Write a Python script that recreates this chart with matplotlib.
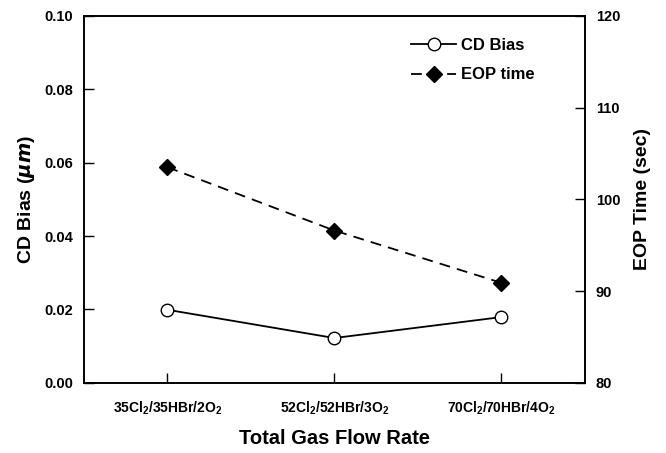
import numpy as np
import matplotlib
matplotlib.use('Agg')
import matplotlib.pyplot as plt

plt.rcParams['font.family'] = 'Liberation Sans'
plt.rcParams['font.weight'] = 'bold'
plt.rcParams['mathtext.fontset'] = 'custom'
plt.rcParams['mathtext.bf'] = 'Liberation Sans:bold'
plt.rcParams['mathtext.rm'] = 'Liberation Sans:bold'
plt.rcParams['mathtext.default'] = 'bf'

# data
labels = ['35Cl$_2$/35HBr/2O$_2$', '52Cl$_2$/52HBr/3O$_2$', '70Cl$_2$/70HBr/4O$_2$']
cd_bias = [0.0199, 0.0122, 0.0179]   # um
eop_time = [103.5, 96.6, 90.9]      # sec

x = np.arange(1, len(labels) + 1)

fig = plt.figure(figsize=(6.66, 4.53), dpi=100)
ax = fig.add_axes([0.126, 0.155, 0.752, 0.81])
ax2 = ax.twinx()

l1, = ax.plot(x, cd_bias, '-', color='black', lw=1.3, marker='o', ms=9,
              mfc='white', mec='black', mew=1.0, label='CD Bias')
l2, = ax2.plot(x, eop_time, '--', color='black', lw=1.3, marker='D', ms=8,
               mfc='black', mec='black', dashes=(6, 4), label='EOP time')

ax.set_xlim(0.5, 3.5)
ax.set_ylim(0, 0.1)
ax.set_yticks([0, 0.02, 0.04, 0.06, 0.08, 0.10])
ax.set_yticklabels(['0.00', '0.02', '0.04', '0.06', '0.08', '0.10'])
ax2.set_ylim(80, 120)
ax2.set_yticks([80, 90, 100, 110, 120])
ax.set_xticks(x)
ax.set_xticklabels(labels)

for a in (ax, ax2):
    a.tick_params(direction='in', length=7, width=1, labelsize=10.5, pad=8)
    for s in a.spines.values():
        s.set_linewidth(1.2)
ax.tick_params(axis='x', labelsize=10, pad=12)

ax.set_xlabel('Total Gas Flow Rate', fontsize=14.5, fontweight='bold', labelpad=9)
ax.set_ylabel('CD Bias ($\\mathit{\\mu m}$)', fontsize=14, fontweight='bold', labelpad=5)
ax2.set_ylabel('EOP Time (sec)', fontsize=14, fontweight='bold', labelpad=10)

leg = ax.legend([l1, l2], ['CD Bias', 'EOP time'], loc='upper right',
                bbox_to_anchor=(0.93, 0.98), frameon=False, fontsize=12,
                handlelength=2.7, handletextpad=0.3, labelspacing=0.85)

fig.savefig('out.png', dpi=100)
